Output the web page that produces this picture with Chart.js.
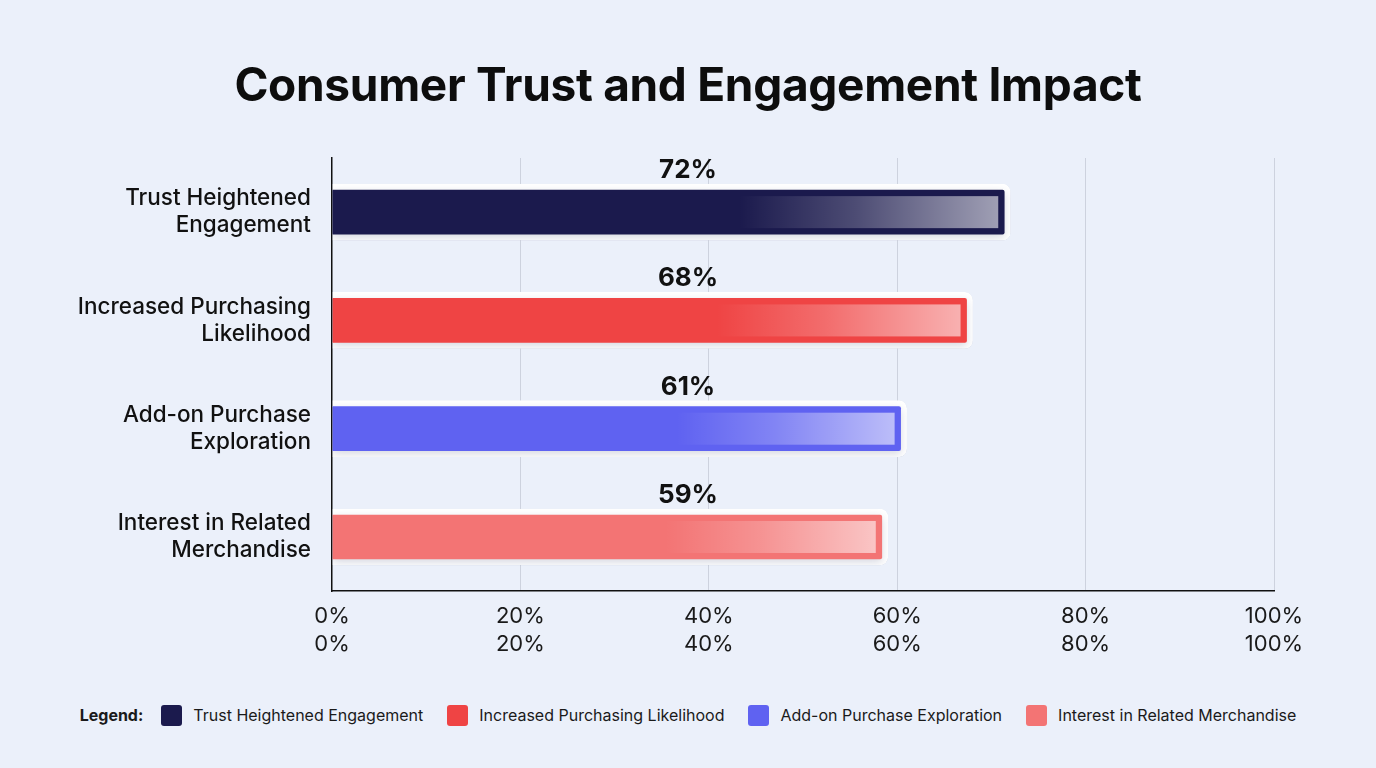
<!DOCTYPE html>
<html>
<head>
<meta charset="utf-8">
<script src="https://cdn.jsdelivr.net/npm/chart.js@4.4.1/dist/chart.umd.min.js"></script>
<style>
  html, body { margin: 0; padding: 0; background: #ebf0fa; }
  body { width: 1376px; height: 768px; overflow: hidden; font-family: Inter, "Noto Sans", sans-serif; }
  #wrap { position: relative; width: 1376px; height: 690px; }
  #title { position: absolute; left: 0; top: 56px; width: 1376px; text-align: center; margin: 0;
           font-size: 46px; line-height: 56px; font-weight: 700; color: #0d0d0d; letter-spacing: -0.3px; }
  #legend { display: flex; justify-content: center; align-items: center; height: 50px; font-size: 16px; color: #1a1a1a; }
  #legend b { font-weight: 700; margin-right: 18px; }
  #legend .item { display: flex; align-items: center; margin-right: 24px; }
  #legend .item:last-child { margin-right: 0; }
  #legend .box { width: 21px; height: 21px; border-radius: 3px; margin-right: 11px; }
</style>
</head>
<body>
<div id="wrap">
  <h1 id="title">Consumer Trust and Engagement Impact</h1>
  <canvas id="myChart"></canvas>
</div>
<div id="legend"><b>Legend:</b></div>
<script>
const categories = [
  ['Trust Heightened', 'Engagement'],
  ['Increased Purchasing', 'Likelihood'],
  ['Add-on Purchase', 'Exploration'],
  ['Interest in Related', 'Merchandise']
];
const legendNames = [
  'Trust Heightened Engagement',
  'Increased Purchasing Likelihood',
  'Add-on Purchase Exploration',
  'Interest in Related Merchandise'
];
const values = [72, 68, 61, 59];
const barColors = ['#1b1a4d', '#ef4444', '#5f62f1', '#f37474'];
const xTicks = [0, 20, 40, 60, 80, 100];

// legend row in html
const legend = document.getElementById('legend');
legendNames.forEach((name, i) => {
  legend.innerHTML += `<span class="item"><span class="box" style="background:${barColors[i]}"></span>${name}</span>`;
});

// soft shadow under the bars
const shadowPlugin = {
  id: 'shadow',
  beforeDatasetDraw(chart) {
    const c = chart.ctx;
    c.save();
    c.shadowColor = 'rgba(30, 40, 90, 0.18)';
    c.shadowBlur = 8;
    c.shadowOffsetY = 3;
  },
  afterDatasetDraw(chart) {
    chart.ctx.restore();
  }
};

// lighter glossy end on each bar + value label on top
const barExtras = {
  id: 'barExtras',
  afterDatasetsDraw(chart) {
    const c = chart.ctx;
    const meta = chart.getDatasetMeta(0);
    meta.data.forEach((bar, i) => {
      const bw = 6;
      const left = bar.base + (bar.x - bar.base) * 0.6;
      const right = bar.x - bw - 6;
      const top = bar.y - bar.height / 2 + bw + 6;
      const h = bar.height - 2 * (bw + 6);
      const g = c.createLinearGradient(left, 0, right, 0);
      g.addColorStop(0, 'rgba(255,255,255,0)');
      g.addColorStop(0.45, 'rgba(255,255,255,0.22)');
      g.addColorStop(1, 'rgba(255,255,255,0.58)');
      c.fillStyle = g;
      c.fillRect(left, top, right - left, h);

      c.font = '700 26px Inter';
      c.fillStyle = '#111';
      c.textAlign = 'center';
      c.textBaseline = 'middle';
      c.fillText(values[i] + '%', chart.width / 2, bar.y - bar.height / 2 - 14);
    });
  }
};

const ctx = document.getElementById('myChart');
new Chart(ctx, {
  type: 'bar',
  data: {
    labels: categories,
    datasets: [{
      data: values,
      backgroundColor: barColors,
      borderColor: '#ffffff',
      borderWidth: 6,
      borderSkipped: 'start',
      borderRadius: { topRight: 8, bottomRight: 8 },
      barThickness: 56
    }]
  },
  options: {
    indexAxis: 'y',
    responsive: true,
    maintainAspectRatio: false,
    animation: false,
    layout: { padding: { top: 158, right: 102, bottom: 21, left: 0 } },
    plugins: {
      legend: { display: false },
      tooltip: { enabled: false }
    },
    scales: {
      x: {
        min: 0,
        max: 100,
        afterBuildTicks: (s) => { s.ticks = xTicks.map(v => ({ value: v })); },
        ticks: {
          callback: (v) => [v + '%', v + '%'],
          color: '#1a1a1a',
          font: { family: 'Inter', size: 22, lineHeight: 1.27 },
          padding: 11,
          maxRotation: 0
        },
        grid: {
          color: (c) => c.tick && c.tick.value === 0 ? 'rgba(0,0,0,0)' : '#cdd2de',
          drawTicks: false
        },
        border: { display: true, color: '#111', width: 1.5 }
      },
      y: {
        afterFit: (s) => { s.width = 332; },
        ticks: {
          color: '#111',
          font: { family: 'Inter', size: 22.5, weight: '500', lineHeight: 1.2 },
          padding: 13
        },
        grid: { display: false },
        border: { display: true, color: '#111', width: 1.5 }
      }
    }
  },
  plugins: [shadowPlugin, barExtras]
});
</script>
</body>
</html>
